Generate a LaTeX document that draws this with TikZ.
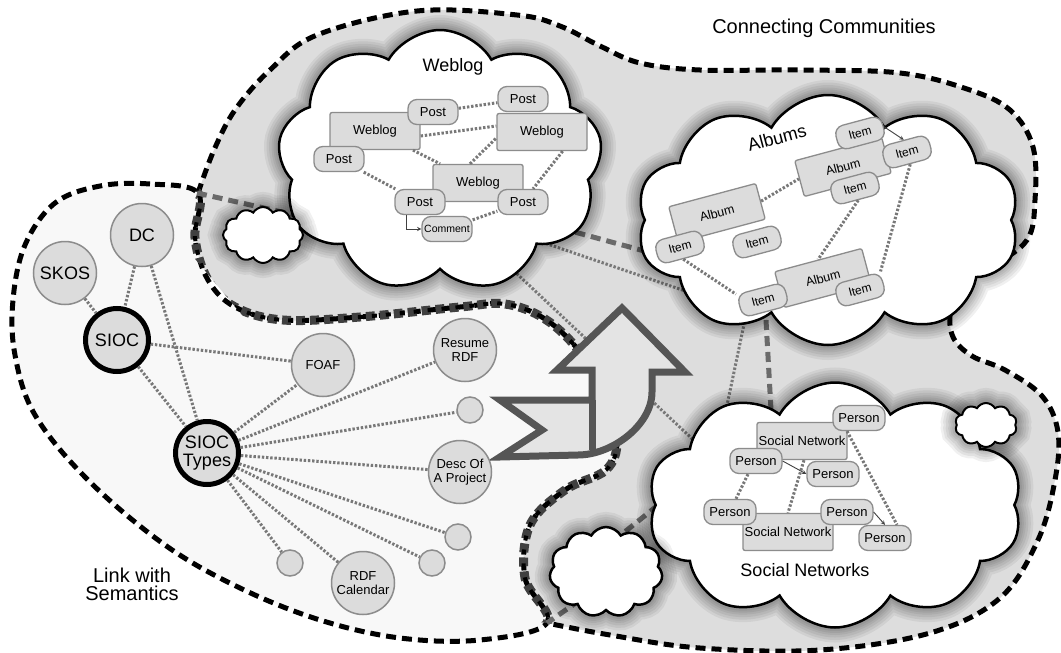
\documentclass[tikz,border=0pt]{standalone}
\usepackage{fontspec}
\setmainfont{Liberation Sans}
\usetikzlibrary{shapes,arrows,positioning}

\definecolor{commgray}{HTML}{DDDDDD}
\definecolor{linkwhite}{HTML}{F8F8F8}
\definecolor{boxgray}{HTML}{DCDCDC}
\definecolor{rimgray}{HTML}{8C8C8C}
\definecolor{dotgray}{HTML}{787878}
\definecolor{dashgray}{HTML}{6A6A6A}
\definecolor{arrowgray}{HTML}{555555}
\definecolor{arrowfill}{HTML}{E4E4E4}
\definecolor{rimdark}{HTML}{404040}

\pgfdeclarelayer{back}
\pgfdeclarelayer{mid}
\pgfsetlayers{back,mid,main}

% rim of the community area, from the upper junction round to the lower one
\def\commrim{plot[smooth, tension=0.6] coordinates {(198,193) (214,150) (235,110) (270,70) (317,35) (417,11) (517,15) (560,26) (600,46) (640,63) (700,70) (800,70) (900,73) (967,89) (1010,110) (1033,147) (1035,200) (1027,240) (990,268) (966,284) (951,310) (953,337) (972,356) (1005,370) (1042,396) (1058,432) (1055,480) (1038,540) (1000,598) (930,633) (820,650) (700,648) (610,635) (547,623)}}
% closed again underneath the semantic area
\def\commarea{\commrim -- (480,615) -- (330,420) -- (175,235) -- cycle}
% rim of the semantic area
\def\linkrim{plot[smooth cycle, tension=0.6] coordinates {(198,193) (150,184) (100,186) (55,203) (25,245) (13,300) (15,355) (35,415) (88,480) (165,545) (240,588) (320,620) (400,638) (480,640) (547,623) (525,578) (530,525) (565,490) (606,470) (617,440) (605,395) (580,352) (545,319) (505,304) (460,307) (360,317) (283,320) (235,307) (208,280) (195,238)}}

\begin{document}
\begin{tikzpicture}[x=1pt, y=-1pt, >=stealth,
  every node/.style={font=\fontsize{13}{14}\selectfont},
  region border/.style={line width=5pt, dash pattern=on 10pt off 6pt},
  dashlink/.style={draw=dashgray, line width=5pt, dash pattern=on 10pt off 6pt},
  dotlink/.style={draw=dotgray, line width=3pt, dash pattern=on 2.4pt off 1.8pt},
  tiearrow/.style={->, draw=black!75, line width=0.9pt},
  halo/.style={preaction={draw=black, draw opacity=0.06, line width=#1}},
  puffy/.style={cloud, cloud puffs=#1, cloud puff arc=120, draw, line width=2.5pt,
    fill=white, inner sep=0pt, halo=30pt, halo=25pt, halo=20pt, halo=15pt, halo=11pt, halo=7pt},
  headline/.style={font=\fontsize{18}{20}\selectfont},
  term/.style={circle, draw=rimgray, line width=1.5pt, fill=boxgray,
    minimum size=63pt, inner sep=0pt, align=center},
  core/.style={term, draw=black, line width=5pt, font=\fontsize{18}{18}\selectfont},
  knob/.style={circle, draw=rimgray, line width=1.5pt, fill=boxgray,
    minimum size=26pt, inner sep=0pt},
  postbox/.style={draw=rimgray, line width=1.3pt, fill=boxgray, rounded corners=9pt,
    minimum width=50pt, minimum height=25pt, inner sep=0pt},
  blogbox/.style={postbox, rounded corners=2pt, minimum width=90pt, minimum height=37pt},
  itembox/.style={postbox, rotate=15, minimum width=48pt, minimum height=24pt,
    font=\fontsize{12}{13}\selectfont},
  albumbox/.style={blogbox, rotate=15, font=\fontsize{12.5}{13}\selectfont},
  personbox/.style={postbox, minimum width=52pt},
  netbox/.style={blogbox}]

\useasboundingbox (0,0) rectangle (1061,653);

% the two areas
\begin{pgfonlayer}{back}
  \fill[commgray] \commarea;
  \draw[region border] \commrim;
  \fill[linkwhite] \linkrim;
  \draw[region border] \linkrim;
  \begin{scope}
    \clip \commarea;
    \draw[rimdark, line width=9pt, dash pattern=on 9pt off 5pt] \linkrim;
    \draw[line width=4pt, dash pattern=on 5pt off 9pt, dash phase=2pt] \linkrim;
  \end{scope}
\end{pgfonlayer}

\node[font=\fontsize{20}{22}\selectfont] (commlabel) at (824,28) {Connecting Communities};
\node[font=\fontsize{20}{18}\selectfont, align=center] (linklabel) at (132,584) {Link with\\Semantics};

% clouds
\node[puffy=9, minimum width=325pt, minimum height=262pt] (blogs) at (440,161) {};
\node[puffy=10, minimum width=383pt, minimum height=250pt] (albums) at (828,220) {};
\node[puffy=10, minimum width=375pt, minimum height=245pt] (social) at (835,505) {};
\node[puffy=12, minimum width=80pt, minimum height=56pt, line width=2pt] (puffa) at (263,235) {};
\node[puffy=11, minimum width=113pt, minimum height=90pt] (puffb) at (606,572) {};
\node[puffy=10, minimum width=62pt, minimum height=44pt, line width=2pt] (puffc) at (986,425) {};

\begin{pgfonlayer}{mid}
  \coordinate (gate) at (197,193);
  \coordinate (foot) at (547,623);
  \draw[dashlink] (gate) -- ([shift={(-60,73)}]blogs.center);
  \draw[dashlink] ([shift={(120,67)}]blogs.center) -- ([shift={(-158,38)}]albums.center);
  \draw[dashlink] ([shift={(-62,100)}]albums.center) -- ([shift={(-64,-95)}]social.center);
  \draw[dashlink] ([shift={(-152,-20)}]social.center) -- ([shift={(0,-25)}]puffb.center);
  \draw[dashlink] ([shift={(-26,28)}]puffb.center) -- (foot);
  \draw[dotlink] ([shift={(90,77)}]blogs.center) -- ([shift={(-128,76)}]albums.center);
  \draw[dotlink] ([shift={(40,78)}]blogs.center) -- ([shift={(-115,-40)}]social.center);
  \draw[dotlink] ([shift={(-81,90)}]albums.center) -- ([shift={(-118,-52)}]social.center);
\end{pgfonlayer}

% weblogs
\node[headline] (blogtitle) at (453,67) {Weblog};
\node[blogbox] (wa) at (375,131) {Weblog};
\node[blogbox] (wb) at (542,132) {Weblog};
\node[blogbox] (wc) at (478,183) {Weblog};
\node[postbox] (pa) at (433,112) {Post};
\node[postbox] (pt) at (523,99) {Post};
\node[postbox] (pl) at (339,159) {Post};
\node[postbox] (pc1) at (420,202) {Post};
\node[postbox] (pc2) at (523,202) {Post};
\node[postbox, font=\fontsize{10.5}{12}\selectfont] (cm) at (447,229) {Comment};
\draw[dotlink] (pa) -- (pt);
\draw[dotlink] ([yshift=-5pt]wa.east) -- ([yshift=6pt]wb.west);
\draw[dotlink] (wa) -- (wc);
\draw[dotlink] ([xshift=-8pt]wc.north) -- ([yshift=-6pt]wb.west);
\draw[dotlink] (pl) -- (pc1);
\draw[dotlink] ([xshift=-25pt]wb.south east) -- ([xshift=10pt]pc2.north);
\draw[dotlink] (cm) -- (pc2);
\draw[tiearrow] ([xshift=-14pt]pc1.south) |- (cm.west);

% albums
\node[headline, rotate=15] (albumtitle) at (777,138) {Albums};
\node[albumbox] (aa) at (843,167) {Album};
\node[itembox] (i1) at (860,133) {Item};
\node[itembox] (i2) at (907,152) {Item};
\node[itembox] (i3) at (855,188) {Item};
\node[albumbox] (al) at (717,213) {Album};
\node[itembox] (i4) at (680,247) {Item};
\node[itembox] (i5) at (757,242) {Item};
\node[albumbox] (ab) at (823,278) {Album};
\node[itembox] (i6) at (763,300) {Item};
\node[itembox] (i7) at (860,290) {Item};
\draw[tiearrow] (i1.east) -- (i2.north);
\draw[dotlink] (al.east) -- (aa.west);
\draw[dotlink] (i3.south) -- (ab.north);
\draw[dotlink] (i2.south) -- (i7.north east);
\draw[dotlink] (i4.south) -- (i6.north west);

% social networks
\node[headline] (socialtitle) at (805,570) {Social Networks};
\node[netbox] (na) at (802,441) {Social Network};
\node[netbox] (nb) at (788,532) {Social Network};
\node[personbox] (pr1) at (859,418) {Person};
\node[personbox] (pr2) at (756,461) {Person};
\node[personbox] (pr3) at (833,474) {Person};
\node[personbox] (pr4) at (730,512) {Person};
\node[personbox] (pr5) at (847,512) {Person};
\node[personbox] (pr6) at (885,538) {Person};
\draw[tiearrow] (pr2.east) -- (pr3.west);
\draw[dotlink] ([xshift=-8pt]pr2.south) -- ([xshift=6pt]pr4.north);
\draw[dotlink] ([xshift=2pt]na.south) -- (nb.north);
\draw[dotlink] ([xshift=-12pt]pr1.south) -- ([xshift=12pt]pr6.north);
\draw[tiearrow] (pr5.east) -- (pr6.north);

% bent arrow
\draw[line width=7pt, draw=arrowgray, fill=arrowfill, line join=miter]
  (622,308) -- (685,372) -- (652,372) -- (652,392)
  .. controls (652,425) and (612,455) .. (578,455) -- (500,457) -- (542,430)
  -- (500,400) -- (592,400) -- (592,370) -- (557,370) -- cycle;
\draw[line width=7pt, draw=arrowgray] (592,400) -- (592,450);

% vocabularies
\node[term, font=\fontsize{18}{18}\selectfont] (dc) at (142,235) {DC};
\node[term, font=\fontsize{18}{18}\selectfont] (skos) at (65,273) {SKOS};
\node[core] (sioc) at (117,340) {SIOC};
\node[core] (types) at (207,453) {SIOC\\Types};
\node[term] (foaf) at (323,365) {FOAF};
\node[term] (resume) at (465,350) {Resume\\RDF};
\node[knob] (k1) at (470,410) {};
\node[term] (desc) at (460,472) {Desc Of\\A Project};
\node[knob] (k2) at (458,537) {};
\node[knob] (k3) at (432,563) {};
\node[term] (cal) at (363,583) {RDF\\Calendar};
\node[knob] (k4) at (290,563) {};

\draw[dotlink] (skos) -- (sioc);
\draw[dotlink] (dc) -- (sioc);
\draw[dotlink] (dc) -- (types);
\draw[dotlink] (sioc) -- (foaf);
\draw[dotlink] (sioc) -- (types);
\foreach \v in {foaf,resume,k1,desc,k2,k3,cal,k4}
  \draw[dotlink] (types) -- (\v);

\end{tikzpicture}
\end{document}
